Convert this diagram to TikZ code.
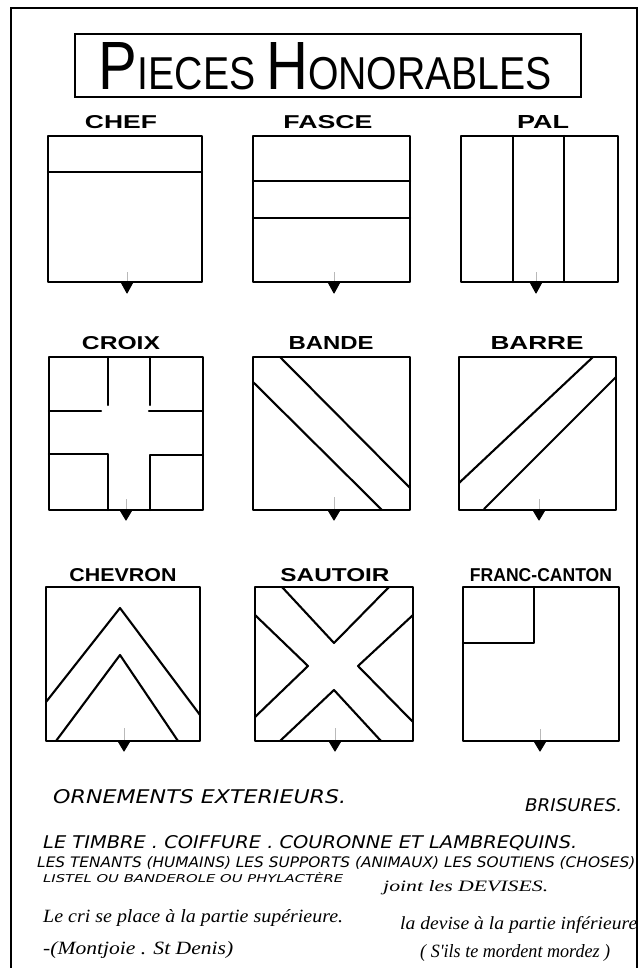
\documentclass[tikz,border=0pt]{standalone}
\usepackage{graphicx}
\usepackage{fontspec}
\setmainfont{Liberation Sans}
\newfontfamily\capsfont{DejaVu Sans}
\newfontfamily\cursivefont{Liberation Serif}
\newcommand{\lab}[2]{\resizebox{#1pt}{13pt}{\bfseries #2}}
\newcommand{\hcaps}[3]{\resizebox{#1pt}{#2pt}{\capsfont\itshape #3}}
\newcommand{\hcurs}[3]{\resizebox{#1pt}{#2pt}{\cursivefont\itshape #3}}
\begin{document}
\begin{tikzpicture}[x=1pt,y=-1pt,
  frameline/.style={line width=1.6pt},
  border/.style={line width=2.8pt, line join=round, line cap=round},
  charge/.style={line width=2.1pt, line cap=round, line join=round},
  pointe/.style={line width=1pt, fill=black, line join=round},
  tick/.style={line width=0.8pt, gray!55},
  lbl/.style={inner sep=0pt, anchor=base},
  txt/.style={inner sep=0pt, anchor=base west}]
\useasboundingbox (0,0) rectangle (643,968);
\fill[white] (0,0) rectangle (643,968);
% page frame
\draw[frameline] (11,968) -- (11,8) -- (637,8) -- (637,968);
% title
\draw[line width=1.6pt] (75,34) rectangle (581,97);
\node[lbl] (title) at (325.5,90) {\resizebox{453pt}{47pt}{\fontsize{40}{40}\selectfont P\fontsize{27}{27}\selectfont IECES \fontsize{40}{40}\selectfont H\fontsize{27}{27}\selectfont ONORABLES}};
% labels
\node[lbl] (lchef) at (121,129) {\lab{72}{CHEF}};
\node[lbl] (lfasce) at (328,129) {\lab{89}{FASCE}};
\node[lbl] (lpal) at (543,129) {\lab{52}{PAL}};
\node[lbl] (lcroix) at (121,349) {\lab{78}{CROIX}};
\node[lbl] (lbande) at (331,349) {\lab{85}{BANDE}};
\node[lbl] (lbarre) at (537,349) {\lab{93}{BARRE}};
\node[lbl] (lchevron) at (123,581) {\lab{107}{CHEVRON}};
\node[lbl] (lsautoir) at (335,581) {\lab{109}{SAUTOIR}};
\node[lbl] (lcanton) at (541,581) {\lab{142}{FRANC-CANTON}};
% ---- row 1
\draw[tick] (127,272) -- (127,282);
\draw[tick] (334,272) -- (334,282);
\draw[tick] (536,272) -- (536,282);
\draw[border] (48,136) rectangle (202,282);
\draw[charge] (48,172) -- (202,172);
\draw[pointe] (121,282) -- (127,293) -- (133,282) -- cycle;
\draw[border] (253,136) rectangle (410,282);
\draw[charge] (253,181) -- (410,181);
\draw[charge] (253,218) -- (410,218);
\draw[pointe] (328,282) -- (334,293) -- (340,282) -- cycle;
\draw[border] (461,136) rectangle (618,282);
\draw[charge] (513,136) -- (513,282);
\draw[charge] (564,136) -- (564,282);
\draw[pointe] (530,282) -- (536,293) -- (542,282) -- cycle;
% ---- row 2
\draw[tick] (126,499) -- (126,510);
\draw[tick] (334,497) -- (334,510);
\draw[tick] (539,499) -- (539,510);
\draw[border] (49,357) rectangle (203,510);
\draw[charge] (108,357) -- (108,405);
\draw[charge] (150,357) -- (150,405);
\draw[charge] (49,411) -- (101,411);
\draw[charge] (149,411) -- (203,411);
\draw[charge] (49,454) -- (108,454) -- (108,510);
\draw[charge] (203,455) -- (150,455) -- (150,510);
\draw[pointe] (120,510) -- (126,520) -- (132,510) -- cycle;
\draw[border] (253,357) rectangle (410,510);
\draw[charge] (280,357) -- (410,488);
\draw[charge] (253,382) -- (382,510);
\draw[pointe] (328,510) -- (334,520) -- (340,510) -- cycle;
\draw[border] (459,357) rectangle (616,510);
\draw[charge] (593,357) -- (459,483);
\draw[charge] (616,377) -- (484,509);
\draw[pointe] (533,510) -- (539,520) -- (545,510) -- cycle;
% ---- row 3
\draw[tick] (124,728) -- (124,741);
\draw[tick] (335,728) -- (335,741);
\draw[tick] (540,729) -- (540,741);
\draw[border] (46,587) rectangle (200,741);
\draw[charge] (46,702) -- (120,608) -- (200,715);
\draw[charge] (56,741) -- (120,655) -- (178,741);
\draw[pointe] (118,741) -- (124,751) -- (130,741) -- cycle;
\draw[border] (255,587) rectangle (413,741);
\draw[charge] (282,587) -- (334,643) -- (389,587);
\draw[charge] (255,615) -- (308,666) -- (255,717);
\draw[charge] (413,615) -- (358,666) -- (413,722);
\draw[charge] (280,741) -- (334,690) -- (381,741);
\draw[pointe] (329,741) -- (335,751) -- (341,741) -- cycle;
\draw[border] (463,587) rectangle (619,741);
\draw[charge] (463,643) -- (534,643) -- (534,587);
\draw[pointe] (534,741) -- (540,751) -- (546,741) -- cycle;
% ---- notes
\node[txt] (orn) at (53,803) {\hcaps{293}{14}{ORNEMENTS EXTERIEURS.}};
\node[txt] (bris) at (525,811) {\hcaps{97}{13}{BRISURES.}};
\node[txt] (timbre) at (43,848) {\hcaps{534}{13}{LE TIMBRE . COIFFURE . COURONNE ET LAMBREQUINS.}};
\node[txt] (tenants) at (37,867) {\hcaps{598}{11}{LES TENANTS (HUMAINS) LES SUPPORTS (ANIMAUX) LES SOUTIENS (CHOSES)}};
\node[txt] (listel) at (43,882) {\hcaps{300}{10}{LISTEL OU BANDEROLE OU PHYLACTÈRE}};
\node[txt] (joint) at (383,891) {\hcurs{165}{11}{joint les DEVISES.}};
\node[txt] (cri) at (43,922) {\hcurs{300}{13}{Le cri se place à la partie supérieure.}};
\node[txt] (devise) at (400,929) {\hcurs{237}{13}{la devise à la partie inférieure}};
\node[txt] (montjoie) at (43,954) {\hcurs{190}{13}{-(Montjoie . St Denis)}};
\node[txt] (mordent) at (420,957) {\hcurs{190}{13}{( S'ils te mordent mordez )}};
\end{tikzpicture}
\end{document}
